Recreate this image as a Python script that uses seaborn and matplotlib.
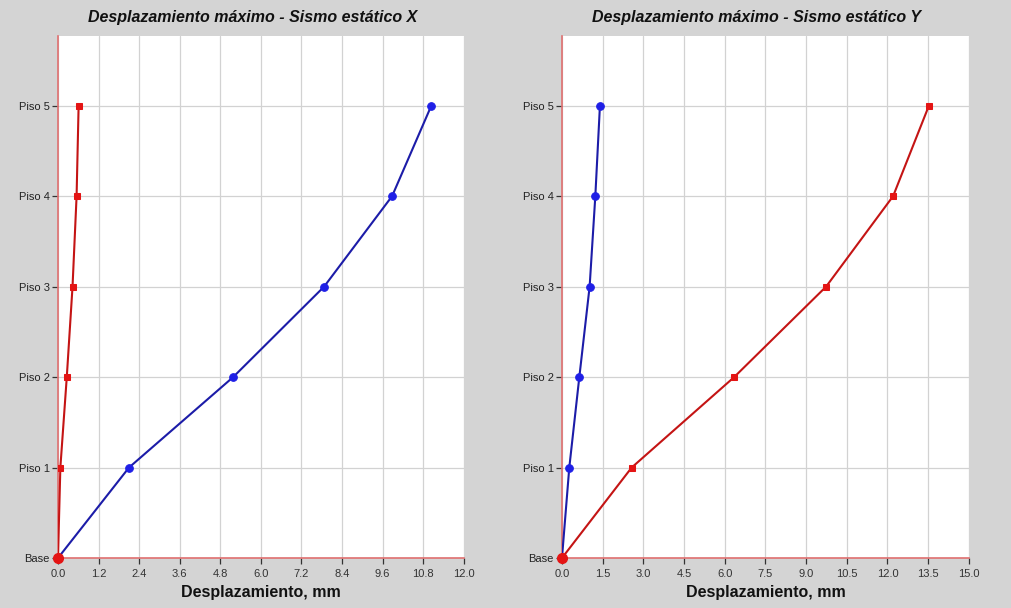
import numpy as np
import pandas as pd
import seaborn as sns
import matplotlib.pyplot as plt

# niveles del edificio
niveles = ["Base", "Piso 1", "Piso 2", "Piso 3", "Piso 4", "Piso 5"]
altura = [0, 1, 2, 3, 4, 5]

# Sismo estatico X (mm)
x_azul = [0.0, 2.10, 5.18, 7.87, 9.88, 11.04]
x_rojo = [0.0, 0.07, 0.26, 0.43, 0.55, 0.61]

# Sismo estatico Y (mm)
y_azul = [0.0, 0.27, 0.64, 1.02, 1.23, 1.40]
y_rojo = [0.0, 2.57, 6.35, 9.74, 12.21, 13.53]

x_ticks_x = np.round(np.arange(0, 12.01, 1.2), 1)
x_ticks_y = np.round(np.arange(0, 15.01, 1.5), 1)

sns.set_theme(style="whitegrid")
plt.rcParams['font.family'] = ['Liberation Sans', 'DejaVu Sans']

GRIS = "#d4d4d4"
AZUL_L, AZUL_M = "#1c1ca8", "#1f1fe6"
ROJO_L, ROJO_M = "#c41414", "#e41414"
EJE = "#e07070"

fig = plt.figure(figsize=(10.12, 6.08), dpi=100)
fig.patch.set_facecolor(GRIS)


def panel(pos, azul, rojo, ticks, xmax, titulo, tcx):
    ax = fig.add_axes(pos)
    ax.set_facecolor("white")
    df = pd.DataFrame({"nivel": altura, "azul": azul, "rojo": rojo})
    sns.lineplot(data=df, x="azul", y="nivel", sort=False, ax=ax, color=AZUL_L,
                 lw=1.5, marker="o", markersize=5.5, markerfacecolor=AZUL_M,
                 markeredgecolor=AZUL_M, zorder=3)
    sns.lineplot(data=df, x="rojo", y="nivel", sort=False, ax=ax, color=ROJO_L,
                 lw=1.5, marker="s", markersize=5, markerfacecolor=ROJO_M,
                 markeredgecolor=ROJO_M, zorder=3)
    ax.plot(rojo[0], altura[0], "o", color=ROJO_M, ms=7, zorder=4, clip_on=False)
    ax.set_xlim(0, xmax)
    ax.set_ylim(0, 5.77)
    ax.set_xticks(ticks)
    ax.set_xticklabels([f"{t:.1f}" for t in ticks], fontsize=8, color="#333333")
    ax.set_yticks(altura)
    ax.set_yticklabels(niveles, fontsize=8, color="#222222")
    ax.tick_params(axis="x", length=4, width=0.9, color="#333333", pad=4, bottom=True)
    ax.tick_params(axis="y", length=4, width=0.9, color="#333333", pad=2, left=True)
    ax.grid(True, color="#d2d2d2", lw=0.9)
    for s in ["top", "right"]:
        ax.spines[s].set_visible(False)
    for s in ["left", "bottom"]:
        ax.spines[s].set_color(EJE)
        ax.spines[s].set_linewidth(1.2)
    ax.set_xlabel("Desplazamiento, mm", fontsize=11.5, fontweight="bold",
                  color="#111111", labelpad=4)
    ax.set_ylabel("")
    fig.text(tcx, 0.972, titulo, ha="center", va="center", fontsize=11.5,
             fontstyle="italic", fontweight="bold", color="#111111")
    return ax


panel([0.0573, 0.0822, 0.401, 0.8586], x_azul, x_rojo, x_ticks_x, 12.0,
      "Desplazamiento máximo - Sismo estático X", 0.25)
panel([0.5553, 0.0822, 0.402, 0.8586], y_azul, y_rojo, x_ticks_y, 15.0,
      "Desplazamiento máximo - Sismo estático Y", 0.748)

fig.savefig("out.png", dpi=100, facecolor=GRIS)
